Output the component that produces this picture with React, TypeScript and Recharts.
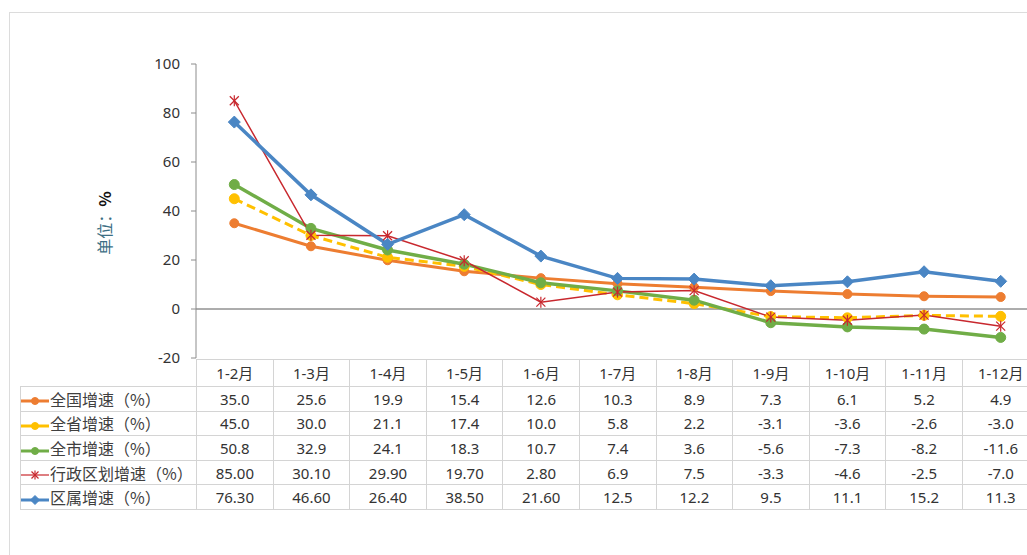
import React from "react";
import { LineChart, Line, XAxis, YAxis, ReferenceLine } from "recharts";

const categories = ["1-2月", "1-3月", "1-4月", "1-5月", "1-6月", "1-7月", "1-8月", "1-9月", "1-10月", "1-11月", "1-12月"];
const national = ["35.0", "25.6", "19.9", "15.4", "12.6", "10.3", "8.9", "7.3", "6.1", "5.2", "4.9"];
const province = ["45.0", "30.0", "21.1", "17.4", "10.0", "5.8", "2.2", "-3.1", "-3.6", "-2.6", "-3.0"];
const city = ["50.8", "32.9", "24.1", "18.3", "10.7", "7.4", "3.6", "-5.6", "-7.3", "-8.2", "-11.6"];
const admin = ["85.00", "30.10", "29.90", "19.70", "2.80", "6.9", "7.5", "-3.3", "-4.6", "-2.5", "-7.0"];
const district = ["76.30", "46.60", "26.40", "38.50", "21.60", "12.5", "12.2", "9.5", "11.1", "15.2", "11.3"];
const yTicks = [-20, 0, 20, 40, 60, 80, 100];

const FONT = "'Noto Sans', 'Noto Sans CJK SC', sans-serif";
const CJK = "'Noto Sans CJK SC', 'Noto Sans', sans-serif";

type Marker = "circle" | "diamond" | "star";
const series: Array<{ key: string; name: string; values: string[]; color: string; width: number; dash?: string; marker: Marker; r: number }> = [
  { key: "national", name: "全国增速（%）", values: national, color: "#ED7D31", width: 3, marker: "circle", r: 4.5 },
  { key: "province", name: "全省增速（%）", values: province, color: "#FFC000", width: 3, dash: "9 5", marker: "circle", r: 5 },
  { key: "city", name: "全市增速（%）", values: city, color: "#70AD47", width: 3.5, marker: "circle", r: 5 },
  { key: "admin", name: "行政区划增速（%）", values: admin, color: "#C8282E", width: 1.5, marker: "star", r: 4.5 },
  { key: "district", name: "区属增速（%）", values: district, color: "#4A86C4", width: 3.5, marker: "diamond", r: 6 },
];

const data = categories.map((c, i) => {
  const row: Record<string, string | number> = { month: c };
  series.forEach((s) => {
    row[s.key] = Number(s.values[i]);
  });
  return row;
});

function drawMarker(marker: Marker, color: string, r: number, cx: number, cy: number, key?: React.Key) {
  if (marker === "circle") return <circle key={key} cx={cx} cy={cy} r={r} fill={color} stroke={color} />;
  if (marker === "diamond")
    return (
      <polygon
        key={key}
        points={`${cx},${cy - r} ${cx + r},${cy} ${cx},${cy + r} ${cx - r},${cy}`}
        fill={color}
        stroke={color}
      />
    );
  return (
    <g key={key} stroke={color} strokeWidth={1.2}>
      <line x1={cx - r} y1={cy - r} x2={cx + r} y2={cy + r} />
      <line x1={cx - r} y1={cy + r} x2={cx + r} y2={cy - r} />
      <line x1={cx} y1={cy - r - 1} x2={cx} y2={cy + r + 1} />
    </g>
  );
}

function LegendIcon({ s }: { s: (typeof series)[number] }) {
  return (
    <svg width={28} height={14} style={{ verticalAlign: "middle", marginRight: 1 }}>
      <line x1={0} y1={7} x2={28} y2={7} stroke={s.color} strokeWidth={s.width > 2 ? 3 : 1.2} />
      {drawMarker(s.marker, s.color, s.marker === "diamond" ? 4.5 : 3.5, 14, 7)}
    </svg>
  );
}

const YLabel = (props: any) => {
  const vb = props.viewBox || { x: 0, y: 0, height: 0 };
  const cx = 104;
  const cy = vb.y + vb.height / 2 + 12;
  return (
    <text x={cx} y={cy} transform={`rotate(-90 ${cx} ${cy})`} textAnchor="middle" dominantBaseline="central" fontSize={16} fontFamily={CJK}>
      <tspan fill="#3C6E84">单位：</tspan>
      <tspan fill="#111" fontWeight="bold">%</tspan>
    </text>
  );
};

const border = "1px solid #d4d4d4";
const colW = 76.6;

export default function App() {
  return (
    <div style={{ position: "fixed", left: 0, top: 0, width: 1027, height: 555, overflow: "hidden", background: "#fff" }}>
      <div style={{ position: "absolute", left: 9, top: 12, width: 1040, height: 560, border: "1px solid #dcdcdc" }} />
      <div style={{ position: "absolute", left: 0, top: 0 }}>
        <LineChart width={1040} height={370} data={data} margin={{ top: 64, right: 1, bottom: 12, left: 136 }}>
          <XAxis dataKey="month" hide padding={{ left: colW / 2, right: colW / 2 }} />
          <YAxis
            width={60}
            domain={[-20, 100]}
            ticks={yTicks}
            interval={0}
            stroke="#8c8c8c"
            tickSize={5}
            tickMargin={11}
            tick={{ fill: "#333", fontSize: 15, fontFamily: FONT }}
            label={<YLabel />}
          />
          <ReferenceLine y={0} stroke="#5a5a5a" strokeWidth={1} />
          {series.map((s) => (
            <Line
              key={s.key}
              dataKey={s.key}
              name={s.name}
              stroke={s.color}
              strokeWidth={s.width}
              strokeDasharray={s.dash}
              isAnimationActive={false}
              activeDot={false}
              dot={(p: any) => drawMarker(s.marker, s.color, s.r, p.cx, p.cy, `${s.key}-${p.index}`)}
            />
          ))}
        </LineChart>
      </div>
      <table
        style={{
          position: "absolute",
          left: 20,
          top: 359,
          borderCollapse: "collapse",
          tableLayout: "fixed",
          width: 176 + colW * categories.length,
          fontFamily: FONT,
          fontSize: 15,
          lineHeight: "20px",
          color: "#333",
        }}
      >
        <colgroup>
          <col style={{ width: 176 }} />
          {categories.map((c) => (
            <col key={c} style={{ width: colW }} />
          ))}
        </colgroup>
        <tbody>
          <tr style={{ height: 27 }}>
            <td style={{ borderRight: border, padding: 0 }} />
            {categories.map((c) => (
              <td key={c} style={{ border, textAlign: "center", padding: 0, fontFamily: FONT }}>
                {c}
              </td>
            ))}
          </tr>
          {series.map((s) => (
            <tr key={s.key} style={{ height: 24.6 }}>
              <td style={{ border, padding: 0, whiteSpace: "nowrap", fontFamily: CJK, fontSize: 16, color: "#404040" }}>
                <LegendIcon s={s} />
                {s.name}
              </td>
              {s.values.map((v, i) => (
                <td key={i} style={{ border, textAlign: "center", padding: 0 }}>
                  {v}
                </td>
              ))}
            </tr>
          ))}
        </tbody>
      </table>
    </div>
  );
}
